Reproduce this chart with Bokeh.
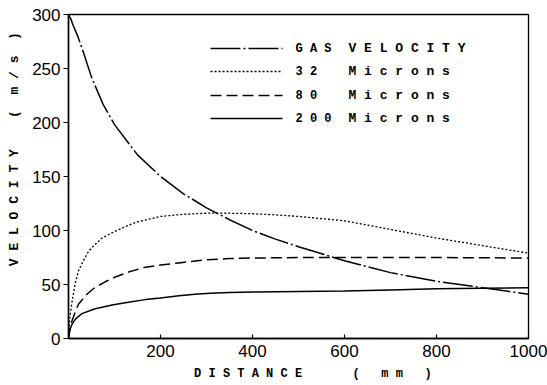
from bokeh.plotting import figure
from bokeh.models import Range1d, FixedTicker, Label
from bokeh.embed import file_html
from bokeh.resources import INLINE

# distance along the duct (mm) and velocities (m/s)
dist_gas = [0, 5, 10, 20, 30, 50, 75, 100, 150, 200, 250, 300, 350, 400,
            450, 500, 600, 700, 800, 900, 1000]
vel_gas = [300, 296, 290, 280, 268, 242, 217, 198, 170, 150, 134, 121, 110, 100,
           92, 85, 72, 61, 53, 47, 41]

dist_32 = [0, 3, 8, 15, 22, 30, 44, 55, 73, 100, 131, 150, 200, 250, 300, 350,
           400, 450, 500, 550, 600, 700, 800, 900, 1000]
vel_32 = [0, 20, 35, 52, 63, 70, 81, 86, 93, 99, 105, 108, 113, 115, 116, 116,
          115.5, 114.5, 113, 111, 109, 101, 93, 86, 79]

dist_80 = [0, 3, 8, 15, 22, 40, 58, 80, 102, 134, 167, 200, 240, 300, 350, 400,
           500, 600, 800, 1000]
vel_80 = [0, 9, 17, 25, 32, 41, 47.5, 52.5, 57, 62, 66, 68, 70, 73, 74, 74.5,
          75, 75, 75, 74.5]

dist_200 = [0, 3, 8, 15, 29, 58, 95, 130, 167, 200, 240, 275, 308, 350, 400,
            500, 600, 700, 800, 900, 1000]
vel_200 = [0, 8, 13.6, 18, 23, 27.5, 31, 33.5, 36, 37.5, 39.5, 41, 42, 42.6, 43,
           43.5, 44, 45, 46, 46.5, 47]

x_ticks = [200, 400, 600, 800, 1000]
y_ticks = [0, 50, 100, 150, 200, 250, 300]

series_names = ["G A S", "3 2", "8 0", "2 0 0"]
series_words = ["V E L O C I T Y", "M i c r o n s", "M i c r o n s", "M i c r o n s"]
series_dash = ["30 3 2 3", "2 2", "11 5", "solid"]
series_width = [1.5, 1.3, 1.5, 1.5]

MONO = "Liberation Mono"
SANS = "Liberation Sans"
NB = "\u00a0"  # non-breaking space keeps the typewriter spacing intact

x_title = NB * 4 + "D I S T A N C E" + NB * 7 + "(" + NB * 3 + "m" + NB + "m" + NB * 3 + ")"
y_title = NB * 7 + "V E L O C I T Y" + NB * 4 + "(" + NB * 2 + "m" + NB + "/" + NB + "s" + NB * 2 + ")"

p = figure(width=547, height=385, output_backend="svg", toolbar_location=None,
           x_range=Range1d(0, 1000), y_range=Range1d(0, 300),
           min_border_left=68, min_border_right=19, min_border_top=14,
           min_border_bottom=47)

p.background_fill_color = "white"
p.border_fill_color = "white"
p.outline_line_color = "black"
p.outline_line_width = 1.3
p.grid.visible = False

# axes
p.xaxis.ticker = FixedTicker(ticks=x_ticks)
p.yaxis.ticker = FixedTicker(ticks=y_ticks)
for ax in (p.xaxis, p.yaxis):
    ax.axis_line_color = "black"
    ax.axis_line_width = 1.5
    ax.major_tick_line_color = "black"
    ax.major_tick_line_width = 1.2
    ax.minor_tick_line_color = None
    ax.major_label_text_font = SANS
    ax.major_label_text_font_size = "17px"
    ax.major_label_text_color = "black"
    ax.axis_label_text_font = MONO
    ax.axis_label_text_font_style = "bold"
    ax.axis_label_text_color = "black"
p.xaxis.major_tick_in = 4
p.xaxis.major_tick_out = 0
p.xaxis.major_label_standoff = 6
p.yaxis.major_tick_in = 0
p.yaxis.major_tick_out = 5
p.yaxis.major_label_standoff = 3

p.xaxis.axis_label = x_title
p.xaxis.axis_label_text_font_size = "12px"
p.xaxis.axis_label_standoff = 7
p.yaxis.axis_label = y_title
p.yaxis.axis_label_text_font_size = "13px"
p.yaxis.axis_label_standoff = 7

# curves
series = [(dist_gas, vel_gas), (dist_32, vel_32), (dist_80, vel_80), (dist_200, vel_200)]
for (xs, ys), dash, w in zip(series, series_dash, series_width):
    p.line(xs, ys, line_color="black", line_width=w, line_dash=dash)

# key: sample line, number column, word column (placed in pixel terms)
def sx(px):
    return (px - 68) / 0.46

def sy(py):
    return (338 - py) / 1.08

row_py = [48, 71, 95, 118]
for py, name, word, dash, w in zip(row_py, series_names, series_words,
                                    series_dash, series_width):
    yv = sy(py)
    p.line([sx(210), sx(282)], [yv, yv], line_color="black", line_width=w,
           line_dash=dash)
    p.add_layout(Label(x=sx(295), y=yv, text=name, text_font=MONO,
                       text_font_size="12px", text_font_style="bold",
                       text_align="left", text_baseline="middle",
                       text_color="black"))
    p.add_layout(Label(x=sx(348), y=yv, text=word, text_font=MONO,
                       text_font_size="13px", text_font_style="bold",
                       text_align="left", text_baseline="middle",
                       text_color="black"))

open("out.html", "w").write(file_html(p, INLINE))
